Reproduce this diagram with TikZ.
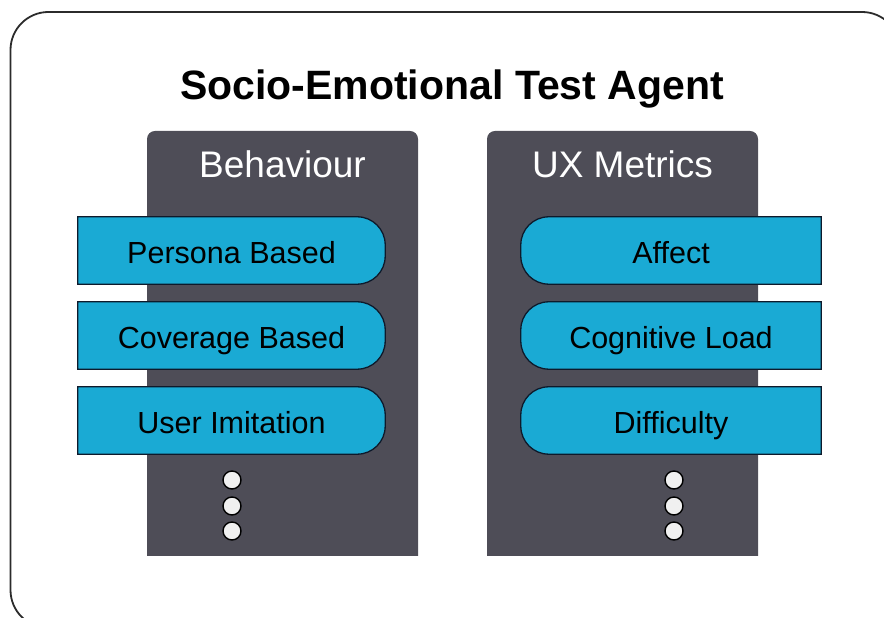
\documentclass[tikz,border=0pt]{standalone}
\usepackage{fontspec}
\setmainfont{Liberation Sans}
\usetikzlibrary{calc}
\definecolor{panelgray}{HTML}{4E4D57}
\definecolor{boxcyan}{HTML}{1AAAD4}
\definecolor{boxline}{HTML}{0E1A2B}
\definecolor{framegray}{HTML}{2B2B2B}
\definecolor{dotfill}{HTML}{F0F0F0}
\pgfdeclarelayer{back}
\pgfdeclarelayer{mid}
\pgfsetlayers{back,mid,main}
\tikzset{
  frame/.style={draw=framegray, line width=1.8pt, rounded corners=38pt},
  panel/.style={fill=panelgray},
  titletext/.style={anchor=base, font=\fontsize{41}{44}\selectfont\bfseries},
  paneltitle/.style={anchor=base, text=white, font=\fontsize{37}{40}\selectfont},
  itemleft/.style={minimum width=307pt, minimum height=67pt, inner sep=0pt,
    text height=26.6pt, text depth=0pt,
    font=\fontsize{30.5}{32}\selectfont, text=black},
  itemright/.style={itemleft, minimum width=300pt},
  capshape/.style={fill=boxcyan, draw=boxline, line width=1.3pt},
  ellipsisdot/.style={circle, minimum size=18pt, inner sep=0pt,
    fill=dotfill, draw=black, line width=1.4pt}
}
% item box with a rounded right end
\newcommand\capright[1]{%
  \path[capshape] (#1.north west) -- ($(#1.north east)+(-28,0)$)
    arc[start angle=90, end angle=0, radius=28]
    -- ($(#1.south east)+(0,28)$)
    arc[start angle=0, end angle=-90, radius=28]
    -- (#1.south west) -- cycle;}
% item box with a rounded left end
\newcommand\capleft[1]{%
  \path[capshape] (#1.north east) -- ($(#1.north west)+(28,0)$)
    arc[start angle=90, end angle=180, radius=28]
    -- ($(#1.south west)+(0,28)$)
    arc[start angle=180, end angle=270, radius=28]
    -- (#1.south east) -- cycle;}
\begin{document}
\begin{tikzpicture}[x=1pt, y=1pt]
  \useasboundingbox (0,0) rectangle (884,618);

  \begin{pgfonlayer}{back}
    % outer frame
    \draw[frame] (10.5,-10) rectangle (900,606);
    % the two columns, rounded on top only
    \fill[panel] (147,62) -- (147,479) arc[start angle=180, end angle=90, radius=8]
      -- (410,487) arc[start angle=90, end angle=0, radius=8] -- (418,62) -- cycle;
    \fill[panel] (487,62) -- (487,479) arc[start angle=180, end angle=90, radius=8]
      -- (750,487) arc[start angle=90, end angle=0, radius=8] -- (758,62) -- cycle;
  \end{pgfonlayer}

  \node[titletext] (title) at (452,518) {Socio-Emotional Test Agent};
  \node[paneltitle] (behav) at (282.5,440) {Behaviour};
  \node[paneltitle] (ux) at (622.5,440) {UX Metrics};

  % behaviour items
  \node[itemleft] (persona) at (231.5,367.5) {Persona Based};
  \node[itemleft] (coverage) at (231.5,282.5) {Coverage Based};
  \node[itemleft] (imitation) at (231.5,197.5) {User Imitation};
  % UX metric items
  \node[itemright] (affect) at (671,367.5) {Affect};
  \node[itemright] (cogload) at (671,282.5) {Cognitive Load};
  \node[itemright] (difficulty) at (671,197.5) {Difficulty};

  \begin{pgfonlayer}{mid}
    \capright{persona}
    \capright{coverage}
    \capright{imitation}
    \capleft{affect}
    \capleft{cogload}
    \capleft{difficulty}
  \end{pgfonlayer}

  % continuation dots
  \node[ellipsisdot] (bd1) at (232,138) {};
  \node[ellipsisdot] (bd2) at (232,112) {};
  \node[ellipsisdot] (bd3) at (232,87) {};
  \node[ellipsisdot] (ud1) at (674,138) {};
  \node[ellipsisdot] (ud2) at (674,112) {};
  \node[ellipsisdot] (ud3) at (674,87) {};
\end{tikzpicture}
\end{document}
